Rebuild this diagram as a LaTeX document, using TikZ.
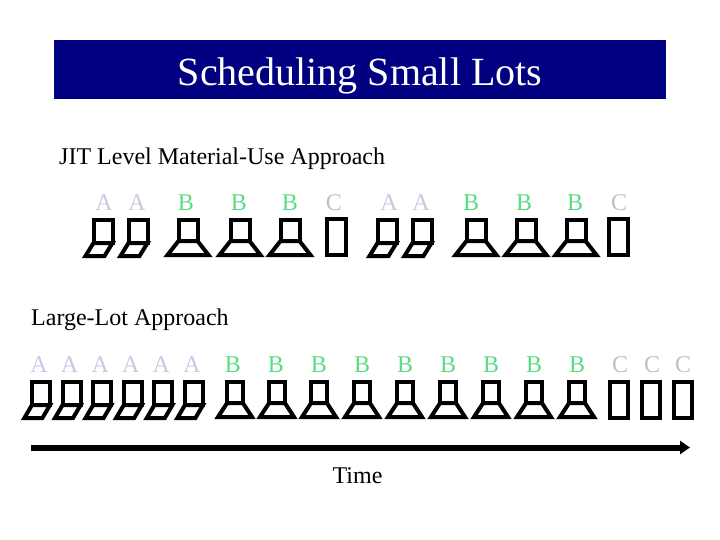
\documentclass[tikz,border=0pt]{standalone}
\usepackage{fontspec}
\setmainfont{Liberation Serif}
\usetikzlibrary{arrows.meta}
\definecolor{navy}{RGB}{0,0,128}
\definecolor{acol}{RGB}{200,200,230}
\definecolor{bcol}{RGB}{90,220,130}
\definecolor{ccol}{RGB}{192,192,192}
\tikzset{
  icon/.style={draw=black,line width=4pt},
  lbl/.style={inner sep=0pt,anchor=base,font=\fontsize{24}{28}\selectfont},
  txt/.style={inner sep=0pt,anchor=base west,font=\fontsize{24}{28}\selectfont},
  pics/aicon/.style={code={
    \draw[icon] (-9.5,0) rectangle (9.5,23);
    \draw[icon] (-9.5,23) -- (-17.5,36) -- (1.5,36) -- (9.5,23) -- cycle;}},
  pics/bicon/.style={code={
    \draw[icon] (-9.5,0) rectangle (9.5,21);
    \draw[icon] (-9.5,21) -- (-20.5,35) -- (20.5,35) -- (9.5,21) -- cycle;}},
  pics/cicon/.style={code={
    \draw[icon] (-9.5,0) rectangle (9.5,36);}}
}
\begin{document}
\begin{tikzpicture}[x=1pt,y=-1pt]
\useasboundingbox (0,0) rectangle (720,540);
% title
\fill[navy] (54,40) rectangle (666,99);
\node[inner sep=0pt,anchor=base,text=white,font=\fontsize{40}{48}\selectfont] (title) at (360,86) {Scheduling Small Lots};
% captions
\node[txt] (jit) at (59,165) {JIT Level Material-Use Approach};
\node[txt] (large) at (31,325) {Large-Lot Approach};
\node[lbl] (time) at (357.5,483) {Time};
% row 1 letters
\foreach \x [count=\i] in {104,137,389,421} \node[lbl,text=acol] (ra\i) at (\x,211) {A};
\foreach \x [count=\i] in {186,239,290,471,524,575} \node[lbl,text=bcol] (rb\i) at (\x,211) {B};
\foreach \x [count=\i] in {334,619} \node[lbl,text=ccol] (rc\i) at (\x,211) {C};
% row 1 icons
\foreach \x in {103,138,387,422} \pic at (\x,220) {aicon};
\foreach \x in {188,240,290,476,526,576} \pic at (\x,220) {bicon};
\foreach \x in {336,618} \pic at (\x,219) {cicon};
% row 2 letters
\foreach \x [count=\i] in {39,69.6,100.2,130.8,161.4,192} \node[lbl,text=acol] (la\i) at (\x,372) {A};
\foreach \x [count=\i] in {233,276,319,362,405,448,491,534,577} \node[lbl,text=bcol] (lb\i) at (\x,372) {B};
\foreach \x [count=\i] in {620,652,683} \node[lbl,text=ccol] (lc\i) at (\x,372) {C};
% row 2 icons
\foreach \x in {41,71.6,102.2,132.8,163.4,194} \pic[xscale=0.95] at (\x,382) {aicon};
\foreach \x in {235,277,319,362,405,448,491,534,577} \pic[xscale=0.83] at (\x,382) {bicon};
\foreach \x in {619,651,683} \pic[xscale=0.95] at (\x,382) {cicon};
% time arrow
\coordinate (t0) at (31,447.5);
\coordinate (t1) at (690,447.5);
\draw[line width=6pt,-{Triangle[length=10pt,width=13pt]}] (t0) -- (t1);
\end{tikzpicture}
\end{document}
